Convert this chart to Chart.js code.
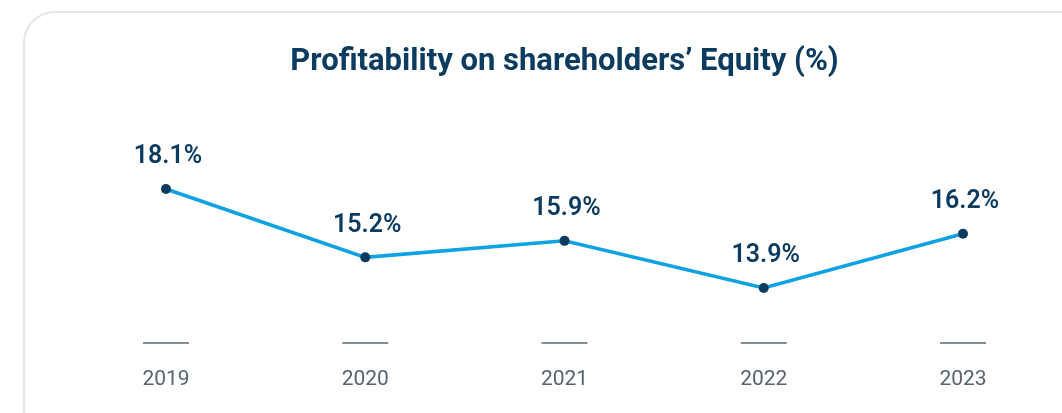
<!DOCTYPE html>
<html>
<head>
<meta charset="utf-8">
<script src="https://cdn.jsdelivr.net/npm/chart.js@4.4.0/dist/chart.umd.min.js"></script>
<style>
  html, body { margin: 0; padding: 0; background: #fff; overflow: hidden; }
  .card {
    position: absolute; left: 23px; top: 11px;
    width: 1080px; height: 440px;
    border: 2px solid #e6e6e6; border-radius: 32px;
    box-sizing: border-box;
  }
  .wrap { position: absolute; left: 0; top: 0; width: 1062px; height: 413px; }
</style>
</head>
<body>
<div class="card"></div>
<div class="wrap"><canvas id="chart1"></canvas></div>
<script>
const years = ['2019', '2020', '2021', '2022', '2023'];
const roe = [18.1, 15.2, 15.9, 13.9, 16.2];

const NAVY = '#0c3b60';
const BLUE = '#0ea2e2';

// value labels above points + short dash above each year
const decorations = {
    id: 'decorations',
    afterDatasetsDraw(chart) {
        const ctx = chart.ctx;
        const meta = chart.getDatasetMeta(0);
        ctx.save();
        ctx.fillStyle = NAVY;
        ctx.font = '600 25px Roboto';
        ctx.textAlign = 'center';
        ctx.textBaseline = 'middle';
        meta.data.forEach((pt, i) => {
            ctx.fillText(roe[i].toFixed(1) + '%', pt.x + 2, pt.y - 32);
        });
        const x = chart.scales.x;
        ctx.strokeStyle = '#5b6771';
        ctx.lineWidth = 1.5;
        x.ticks.forEach((t, i) => {
            const px = x.getPixelForTick(i);
            ctx.beginPath();
            ctx.moveTo(px - 23, 343);
            ctx.lineTo(px + 23, 343);
            ctx.stroke();
        });
        ctx.restore();
    }
};

new Chart(document.getElementById('chart1'), {
    type: 'line',
    data: {
        labels: years,
        datasets: [{
            data: roe,
            borderColor: BLUE,
            borderWidth: 3.5,
            tension: 0,
            pointRadius: 5,
            pointBackgroundColor: NAVY,
            pointBorderColor: NAVY,
            pointBorderWidth: 0
        }]
    },
    options: {
        responsive: true,
        maintainAspectRatio: false,
        animation: false,
        layout: { padding: { left: 166, right: 99, top: 0, bottom: 0 } },
        plugins: {
            legend: { display: false },
            tooltip: { enabled: false },
            title: {
                display: true,
                text: 'Profitability on shareholders\u2019 Equity (%)',
                color: NAVY,
                font: { family: 'Roboto', size: 31, weight: 'bold' },
                padding: { top: 43.4, bottom: 63.6 }
            }
        },
        scales: {
            x: {
                offset: false,
                grid: { display: false },
                border: { display: false },
                ticks: {
                    color: '#56646e',
                    font: { family: 'Roboto', size: 21 },
                    padding: 26,
                    maxRotation: 0
                },
                afterFit(scale) { scale.height = 80.2; }
            },
            y: {
                display: false,
                min: 12,
                max: 20
            }
        }
    },
    plugins: [decorations]
});
</script>
</body>
</html>
